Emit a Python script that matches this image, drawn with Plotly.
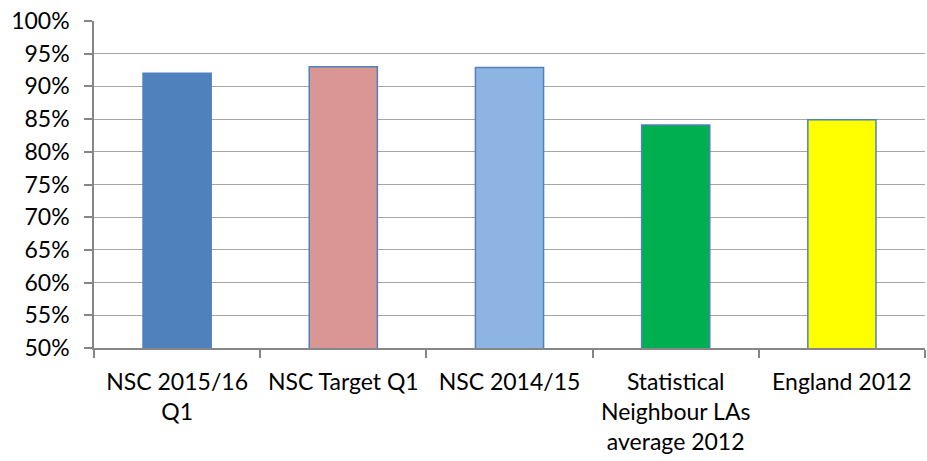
import plotly.graph_objects as go

categories = ["NSC 2015/16<br>Q1", "NSC Target Q1", "NSC 2014/15",
              "Statistical<br>Neighbour LAs<br>average 2012", "England 2012"]
values = [92.0, 93.0, 92.9, 84.1, 84.9]
colors = ["#4F81BD", "#D99694", "#8EB4E3", "#00B050", "#FFFF00"]
outline = ["#4F81BD", "#4F81BD", "#4F81BD", "#4F81BD", "#4F81BD"]
y_ticks = list(range(50, 101, 5))

fig = go.Figure(go.Bar(
    x=categories, y=values,
    marker=dict(color=colors, line=dict(color=outline, width=1.5)),
    width=0.41,
))

font = dict(family="Lato, Carlito, Open Sans, sans-serif", size=23, color="#000000")

fig.update_layout(
    width=927, height=461,
    margin=dict(l=94, r=2, t=21, b=113),
    paper_bgcolor="white", plot_bgcolor="white",
    showlegend=False,
    font=font,
)
fig.update_xaxes(
    type="category", automargin=False,
    showline=True, linecolor="#868686", linewidth=1.5,
    ticks="outside", tickson="boundaries", ticklen=8, tickcolor="#868686", tickwidth=1.5,
    showgrid=False, tickfont=font, ticklabelstandoff=13,
)
fig.update_yaxes(
    range=[50, 100], tickvals=y_ticks, ticktext=[f"{v}%" for v in y_ticks],
    automargin=False, ticklabeloverflow="allow",
    showline=True, linecolor="#868686", linewidth=1.5,
    ticks="outside", ticklen=8, tickcolor="#868686", tickwidth=1.5,
    showgrid=True, gridcolor="#A6A6A6", gridwidth=1.2,
    zeroline=False, tickfont=font, ticklabelstandoff=10,
)

fig.write_html("out.html", config={"displayModeBar": False},
               post_script="document.body.style.margin='0';")
